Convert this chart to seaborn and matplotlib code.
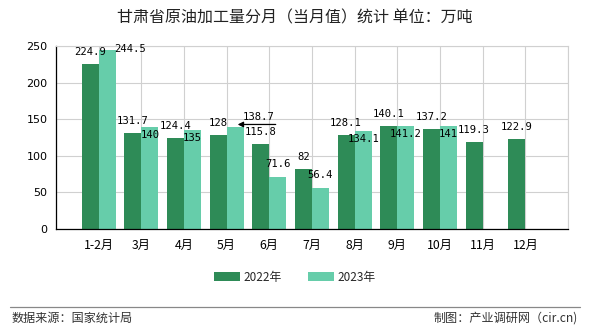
import numpy as np
import pandas as pd
import matplotlib
matplotlib.use("Agg")
import matplotlib.pyplot as plt
import seaborn as sns

# ---- data ----
categories = ["1-2月", "3月", "4月", "5月", "6月", "7月", "8月", "9月", "10月", "11月", "12月"]
values_2022 = [224.9, 131.7, 124.4, 128, 115.8, 82, 128.1, 140.1, 137.2, 119.3, 122.9]
values_2023 = [244.5, 140, 135, 138.7, 71.6, 56.4, 134.1, 141.2, 141, np.nan, np.nan]
series_names = ["2022年", "2023年"]
y_ticks = [0, 50, 100, 150, 200, 250]
title = "甘肃省原油加工量分月（当月值）统计 单位：万吨"
source_left = "数据来源：国家统计局"
source_right = "制图：产业调研网（cir.cn)"

colors = ["#2e8b57", "#66cdaa"]

sns.set_theme(style="white")
plt.rcParams["font.family"] = ["Noto Sans CJK SC", "DejaVu Sans"]

df = pd.DataFrame({
    "month": categories * 2,
    "value": values_2022 + values_2023,
    "year": [series_names[0]] * len(categories) + [series_names[1]] * len(categories),
}).dropna()

fig = plt.figure(figsize=(5.9, 3.3), dpi=100)
ax = fig.add_axes([56 / 590, 1 - 229 / 330, 512 / 590, 183 / 330])

sns.barplot(data=df, x="month", y="value", hue="year", order=categories,
            hue_order=series_names, palette=colors, width=0.8, dodge=True,
            saturation=1, ax=ax, legend=True, errorbar=None, linewidth=0,
            edgecolor="none")

ax.set_xlim(-1, len(categories))
ax.set_ylim(0, 250)
ax.set_xticks(range(-1, len(categories) + 1))
ax.set_xticklabels([""] + categories + [""], fontsize=8.8)
ax.set_yticks(y_ticks)
ax.set_yticklabels([str(t) for t in y_ticks], fontsize=8, family="DejaVu Sans")
ax.set_xlabel("")
ax.set_ylabel("")
ax.grid(True, color="#d0d0d0", linewidth=0.8)
ax.set_axisbelow(True)
for s in ["top", "right"]:
    ax.spines[s].set_color("#d0d0d0")
    ax.spines[s].set_linewidth(0.8)
for s in ["left", "bottom"]:
    ax.spines[s].set_color("black")
    ax.spines[s].set_linewidth(0.9)
ax.tick_params(axis="both", which="both", length=4, width=0.8, color="black",
               direction="out", pad=2, labelcolor="black")
ax.tick_params(axis="x", pad=3)

# ---- data labels ----
px = 0.72  # points per pixel at 100 dpi
lab_font = dict(family="DejaVu Sans Mono", fontsize=7.6, color="black")


def fmt(v):
    return f"{v:g}"


bars22 = ax.containers[0]
bars23 = ax.containers[1]
for i, b in enumerate(bars22):
    v = values_2022[i]
    cx = b.get_x() + b.get_width() / 2
    ax.annotate(fmt(v), (cx, b.get_height()), xytext=(0, 12 * px),
                textcoords="offset points", ha="center", va="center", **lab_font)

special = {"1-2月": "right", "5月": "leader"}
valid23 = [i for i, v in enumerate(values_2023) if not np.isnan(v)]
for b, i in zip(bars23, valid23):
    v = values_2023[i]
    cx = b.get_x() + b.get_width() / 2
    top = b.get_height()
    mode = special.get(categories[i])
    if mode == "right":
        ax.annotate(fmt(v), (cx, top), xytext=(23 * px, 1 * px),
                    textcoords="offset points", ha="center", va="center", **lab_font)
    elif mode == "leader":
        ax.annotate(fmt(v), (cx, top), xytext=(23 * px, 10 * px),
                    textcoords="offset points", ha="center", va="center", **lab_font)
        ax.annotate("", xy=(cx + 2.5 / 42.67, top + 3 / 0.732),
                    xytext=(cx + 40.5 / 42.67, top + 3 / 0.732),
                    arrowprops=dict(arrowstyle="-|>", color="black", lw=0.9,
                                    mutation_scale=8, shrinkA=0, shrinkB=0))
    elif v >= values_2022[i] and v - values_2022[i] < 15:
        ax.annotate(fmt(v), (cx, top), xytext=(0, -8 * px),
                    textcoords="offset points", ha="center", va="center", **lab_font)
    else:
        ax.annotate(fmt(v), (cx, top), xytext=(0, 13 * px),
                    textcoords="offset points", ha="center", va="center", **lab_font)

# ---- legend ----
leg = ax.legend(loc="center", bbox_to_anchor=(295 / 590, 1 - 277 / 330),
                bbox_transform=fig.transFigure, ncol=2, frameon=False,
                fontsize=8.5, handlelength=2.2, handleheight=0.9,
                columnspacing=2.2, handletextpad=0.3)

# ---- title and footer ----
fig.text(0.5, 1 - 18 / 330, title, ha="center", va="center", fontsize=11.5, color="#222222")
fig.add_artist(plt.Line2D([10 / 590, 580 / 590], [1 - 307 / 330, 1 - 307 / 330],
                          color="#888888", lw=0.9, transform=fig.transFigure))
fig.text(12 / 590, 1 - 318 / 330, source_left, ha="left", va="center", fontsize=8.7, color="#333333")
fig.text(578 / 590, 1 - 318 / 330, source_right, ha="right", va="center", fontsize=8.7, color="#333333")

fig.savefig("out.png", dpi=100)
